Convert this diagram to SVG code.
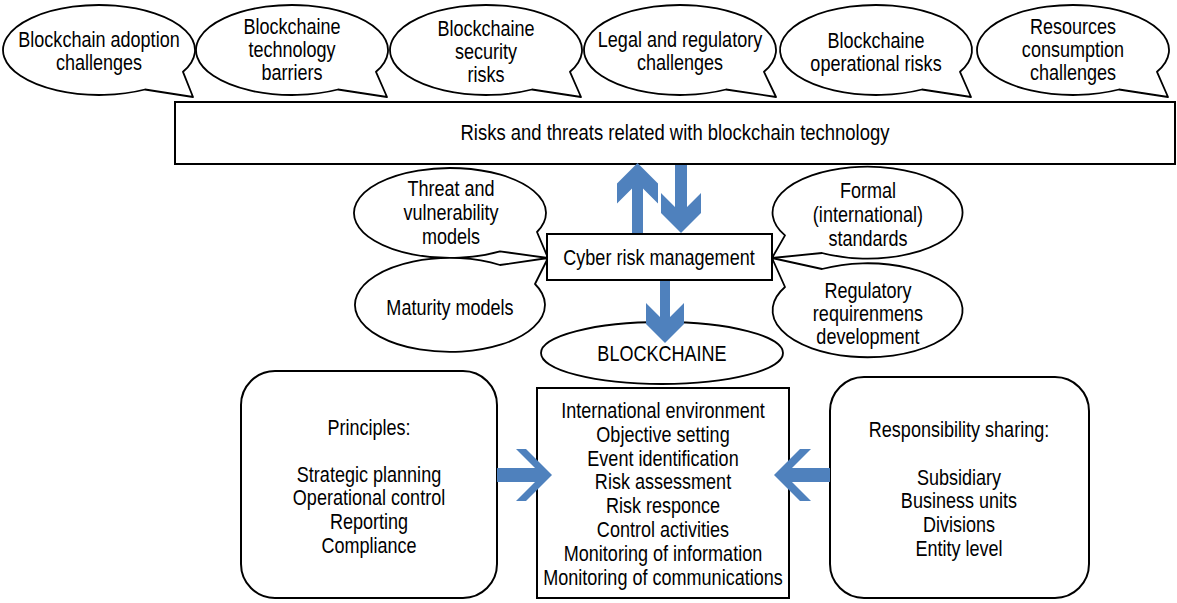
<svg xmlns="http://www.w3.org/2000/svg" width="1177" height="603" viewBox="0 0 1177 603">
<style>
.sh{fill:#fff;stroke:#000;stroke-width:1.8;stroke-linejoin:round}
.bx{fill:#fff;stroke:#000;stroke-width:2}
.ar{fill:#4f81bd;stroke:none}
text{font-family:"Liberation Sans",Arial,sans-serif;font-size:22px;fill:#000;text-anchor:middle}
</style>
<rect width="1177" height="603" fill="#fff"/>
<g id="c1"><path class="sh" d="M183 71.8 A96 45 0 1 0 145 89.5 L193 97 Z"/><text transform="translate(99 47) scale(0.82 1)">Blockchain adoption</text><text transform="translate(99 70) scale(0.82 1)">challenges</text></g>
<g id="c2"><path class="sh" d="M376 71.8 A96 45 0 1 0 338 89.5 L387 97 Z"/><text transform="translate(292 34) scale(0.82 1)">Blockchaine</text><text transform="translate(292 57) scale(0.82 1)">technology</text><text transform="translate(292 80) scale(0.82 1)">barriers</text></g>
<g id="c3"><path class="sh" d="M570 71.8 A96 45 0 1 0 532 89.5 L581 97 Z"/><text transform="translate(486 36) scale(0.82 1)">Blockchaine</text><text transform="translate(486 59) scale(0.82 1)">security</text><text transform="translate(486 82) scale(0.82 1)">risks</text></g>
<g id="c4"><path class="sh" d="M764 71.8 A96 45 0 1 0 726 89.5 L776 97 Z"/><text transform="translate(680 47) scale(0.82 1)">Legal and regulatory</text><text transform="translate(680 70) scale(0.82 1)">challenges</text></g>
<g id="c5"><path class="sh" d="M960 71.8 A96 45 0 1 0 922 89.5 L971 97 Z"/><text transform="translate(876 48) scale(0.82 1)">Blockchaine</text><text transform="translate(876 71) scale(0.82 1)">operational risks</text></g>
<g id="c6"><path class="sh" d="M1157 71.8 A96 45 0 1 0 1119 89.5 L1168 97 Z"/><text transform="translate(1073 34) scale(0.82 1)">Resources</text><text transform="translate(1073 57) scale(0.82 1)">consumption</text><text transform="translate(1073 80) scale(0.82 1)">challenges</text></g>
<g id="risks"><rect class="bx" x="175" y="102" width="1000" height="62"/><text transform="translate(675 140) scale(0.84 1)">Risks and threats related with blockchain technology</text></g>
<g id="threat"><path class="sh" d="M537 232 A96 45 0 1 0 500 251.4 L548 258 Z"/><text transform="translate(451 196) scale(0.82 1)">Threat and</text><text transform="translate(451 220) scale(0.82 1)">vulnerability</text><text transform="translate(451 244) scale(0.82 1)">models</text></g>
<g id="maturity"><path class="sh" d="M535 284 A95 47 0 1 1 500 265 L548 258 Z"/><text transform="translate(450 315) scale(0.82 1)">Maturity models</text></g>
<g id="formal"><path class="sh" d="M822 253 A95 46 0 1 0 785 235.4 L772 258 Z"/><text transform="translate(868 198) scale(0.82 1)">Formal</text><text transform="translate(868 222) scale(0.82 1)">(international)</text><text transform="translate(868 246) scale(0.82 1)">standards</text></g>
<g id="regulatory"><path class="sh" d="M785 287 A95 47 0 1 0 822 269 L772 258 Z"/><text transform="translate(868 298) scale(0.82 1)">Regulatory</text><text transform="translate(868 321) scale(0.82 1)">requirenmens</text><text transform="translate(868 344) scale(0.82 1)">development</text></g>
<g id="cyber"><rect class="bx" x="547" y="234" width="225" height="46"/><text transform="translate(659 265) scale(0.82 1)">Cyber risk management</text></g>
<g id="blockchaine"><ellipse class="sh" cx="662" cy="353" rx="121" ry="31"/><text transform="translate(662 361) scale(0.82 1)">BLOCKCHAINE</text></g>
<g id="principles"><rect class="bx" x="241" y="371" width="256" height="227" rx="34"/><text transform="translate(369 435) scale(0.82 1)">Principles:</text><text transform="translate(369 482) scale(0.82 1)">Strategic planning</text><text transform="translate(369 505) scale(0.82 1)">Operational control</text><text transform="translate(369 529) scale(0.82 1)">Reporting</text><text transform="translate(369 553) scale(0.82 1)">Compliance</text></g>
<g id="process"><rect class="bx" x="537" y="388" width="252" height="210"/><text transform="translate(663 418) scale(0.82 1)">International environment</text><text transform="translate(663 442) scale(0.82 1)">Objective setting</text><text transform="translate(663 466) scale(0.82 1)">Event identification</text><text transform="translate(663 489) scale(0.82 1)">Risk assessment</text><text transform="translate(663 513) scale(0.82 1)">Risk responce</text><text transform="translate(663 537) scale(0.82 1)">Control activities</text><text transform="translate(663 561) scale(0.82 1)">Monitoring of information</text><text transform="translate(663 585) scale(0.82 1)">Monitoring of communications</text></g>
<g id="responsibility"><rect class="bx" x="830" y="377" width="259" height="221" rx="34"/><text transform="translate(959 437) scale(0.82 1)">Responsibility sharing:</text><text transform="translate(959 485) scale(0.82 1)">Subsidiary</text><text transform="translate(959 508) scale(0.82 1)">Business units</text><text transform="translate(959 532) scale(0.82 1)">Divisions</text><text transform="translate(959 556) scale(0.82 1)">Entity level</text></g>
<g id="connectors">
<polygon class="ar" points="632,233 632,188.5 617,203.5 617,183.5 637.5,163 658,183.5 658,203.5 643,188.5 643,233"/>
<polygon class="ar" points="675,165 687,165 687,207 701,193 701,213 681,233 661,213 661,193 675,207"/>
<polygon class="ar" points="660,281 670,281 670,317 684,303 684,324 665,343 646,324 646,303 660,317"/>
<polygon class="ar" points="497,468 535,468 516,449 526,449 552,475 526,501 516,501 535,482 497,482"/>
<polygon class="ar" points="830,468 792,468 811,449 800,449 774,475 800,501 811,501 792,482 830,482"/>
</g>
</svg>
